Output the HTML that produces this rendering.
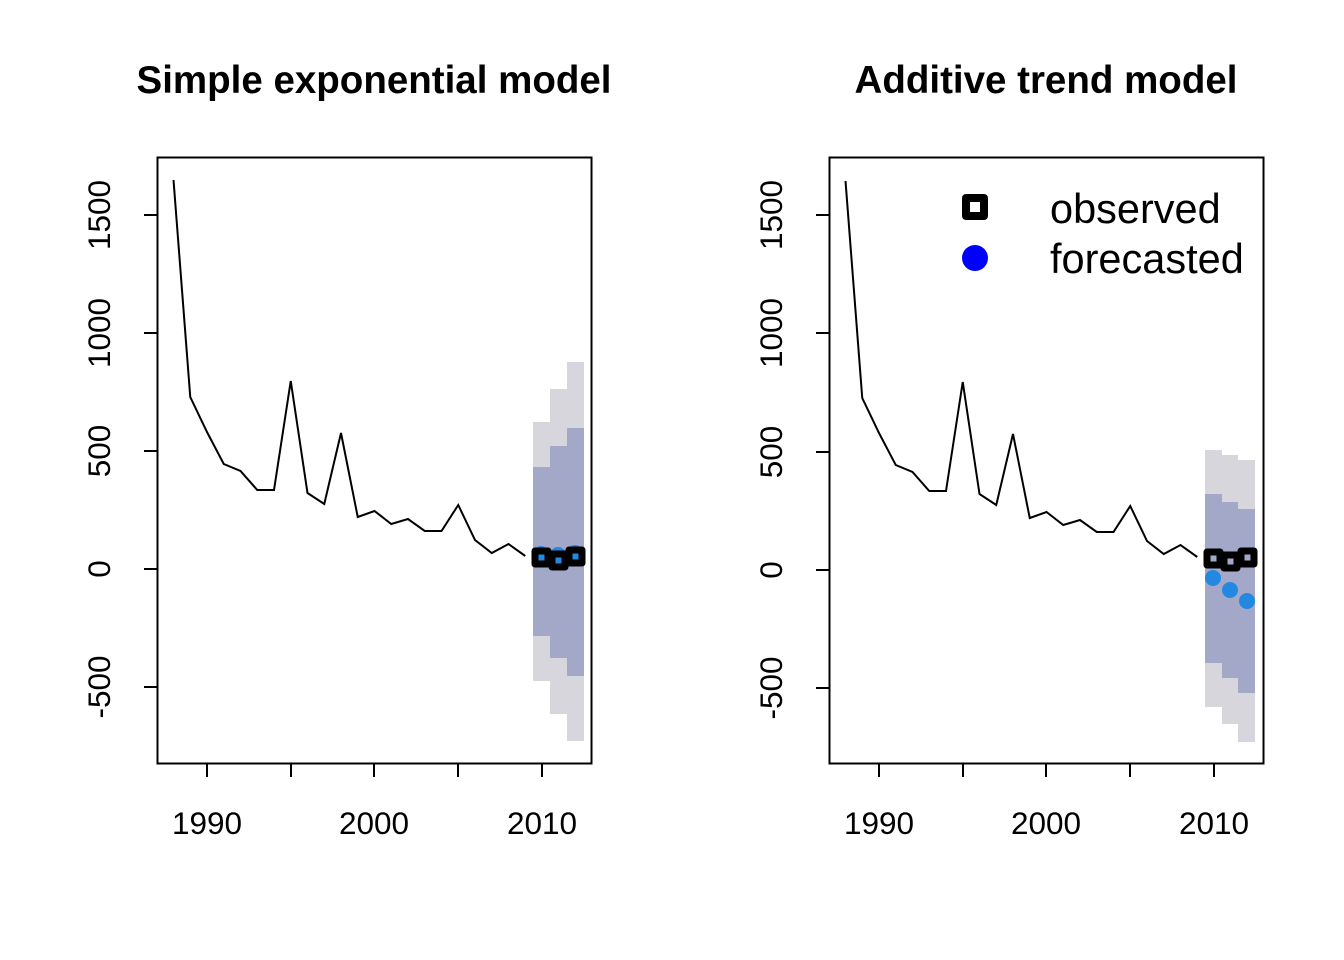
<!DOCTYPE html>
<html><head><meta charset="utf-8"><style>
html,body{margin:0;padding:0;background:#fff}
svg{display:block}
text{font-family:"Liberation Sans",Arial,sans-serif;fill:#000}
</style></head><body>
<svg width="1344" height="960" viewBox="0 0 1344 960" xmlns="http://www.w3.org/2000/svg">
<rect width="1344" height="960" fill="#fff"/>
<!-- LEFT PANEL -->
<text x="374" y="93" font-size="38.5" font-weight="bold" text-anchor="middle">Simple exponential model</text>
<g fill="#d6d6dc">
<rect x="533" y="422" width="17" height="259"/>
<rect x="550" y="389" width="17" height="325"/>
<rect x="567" y="362" width="17" height="379"/>
</g>
<g fill="#a4a8c8">
<rect x="533" y="467" width="17" height="169"/>
<rect x="550" y="446" width="17" height="212"/>
<rect x="567" y="428" width="17" height="248"/>
</g>
<polyline fill="none" stroke="#000" stroke-width="2" points="173.5,180 190.25,397 207,432 223.75,464 240.5,471 257.25,490 274,490 290.75,381 307.5,493 324.25,504 341,433 357.75,517 374.5,511 391.25,524 408,519 424.75,531 441.5,531 458.25,505 475,540 491.75,553 508.5,544 525.25,556"/>
<g fill="#2288e0">
<circle cx="541" cy="554" r="8"/><circle cx="558" cy="555" r="8"/><circle cx="575" cy="553" r="8"/>
</g>
<g fill="#2288e0" stroke="#000" stroke-width="7" stroke-linejoin="round">
<rect x="535" y="551" width="13" height="13"/>
<rect x="552" y="554" width="13" height="13"/>
<rect x="569" y="550" width="13" height="13"/>
</g>
<rect x="157.5" y="157.5" width="434" height="606" fill="none" stroke="#000" stroke-width="2"/>
<g stroke="#000" stroke-width="2">
<line x1="207" y1="764" x2="207" y2="777"/><line x1="291" y1="764" x2="291" y2="777"/><line x1="374" y1="764" x2="374" y2="777"/><line x1="458" y1="764" x2="458" y2="777"/><line x1="542" y1="764" x2="542" y2="777"/>
<line x1="157" y1="215" x2="144" y2="215"/><line x1="157" y1="333" x2="144" y2="333"/><line x1="157" y1="451" x2="144" y2="451"/><line x1="157" y1="569" x2="144" y2="569"/><line x1="157" y1="687" x2="144" y2="687"/>
</g>
<g font-size="31.5" text-anchor="middle">
<text x="207" y="834">1990</text><text x="374" y="834">2000</text><text x="542" y="834">2010</text>
<text transform="translate(110,215) rotate(-90)">1500</text>
<text transform="translate(110,333) rotate(-90)">1000</text>
<text transform="translate(110,451) rotate(-90)">500</text>
<text transform="translate(110,569) rotate(-90)">0</text>
<text transform="translate(110,687) rotate(-90)">-500</text>
</g>
<!-- RIGHT PANEL -->
<text x="1046" y="93" font-size="38.5" font-weight="bold" text-anchor="middle">Additive trend model</text>
<g fill="#d6d6dc">
<rect x="1205" y="450" width="17" height="257"/>
<rect x="1222" y="455" width="16" height="269"/>
<rect x="1238" y="460" width="17" height="282"/>
</g>
<g fill="#a4a8c8">
<rect x="1205" y="494" width="17" height="169"/>
<rect x="1222" y="502" width="16" height="176"/>
<rect x="1238" y="509" width="17" height="184"/>
</g>
<polyline transform="translate(672,1)" fill="none" stroke="#000" stroke-width="2" points="173.5,180 190.25,397 207,432 223.75,464 240.5,471 257.25,490 274,490 290.75,381 307.5,493 324.25,504 341,433 357.75,517 374.5,511 391.25,524 408,519 424.75,531 441.5,531 458.25,505 475,540 491.75,553 508.5,544 525.25,556"/>
<g fill="#a4a8c8" stroke="#000" stroke-width="7" stroke-linejoin="round">
<rect x="1207" y="552" width="13" height="13"/>
<rect x="1224" y="555" width="13" height="13"/>
<rect x="1241" y="551" width="13" height="13"/>
</g>
<g fill="#2288e0">
<circle cx="1213" cy="578" r="8"/><circle cx="1230" cy="590" r="8"/><circle cx="1247" cy="601" r="8"/>
</g>
<rect x="829.5" y="157.5" width="434" height="606" fill="none" stroke="#000" stroke-width="2"/>
<g stroke="#000" stroke-width="2">
<line x1="879" y1="764" x2="879" y2="777"/><line x1="963" y1="764" x2="963" y2="777"/><line x1="1046" y1="764" x2="1046" y2="777"/><line x1="1130" y1="764" x2="1130" y2="777"/><line x1="1214" y1="764" x2="1214" y2="777"/>
<line x1="829" y1="215" x2="816" y2="215"/><line x1="829" y1="333" x2="816" y2="333"/><line x1="829" y1="452" x2="816" y2="452"/><line x1="829" y1="570" x2="816" y2="570"/><line x1="829" y1="688" x2="816" y2="688"/>
</g>
<g font-size="31.5" text-anchor="middle">
<text x="879" y="834">1990</text><text x="1046" y="834">2000</text><text x="1214" y="834">2010</text>
<text transform="translate(782,215) rotate(-90)">1500</text>
<text transform="translate(782,333) rotate(-90)">1000</text>
<text transform="translate(782,452) rotate(-90)">500</text>
<text transform="translate(782,570) rotate(-90)">0</text>
<text transform="translate(782,688) rotate(-90)">-500</text>
</g>
<!-- legend -->
<rect x="966" y="198" width="18" height="18" fill="#fff" stroke="#000" stroke-width="8" stroke-linejoin="round"/>
<circle cx="975" cy="258" r="13" fill="#0000ff"/>
<text x="1050" y="223" font-size="41.5">observed</text>
<text x="1050" y="273" font-size="41.5">forecasted</text>
</svg>
</body></html>
